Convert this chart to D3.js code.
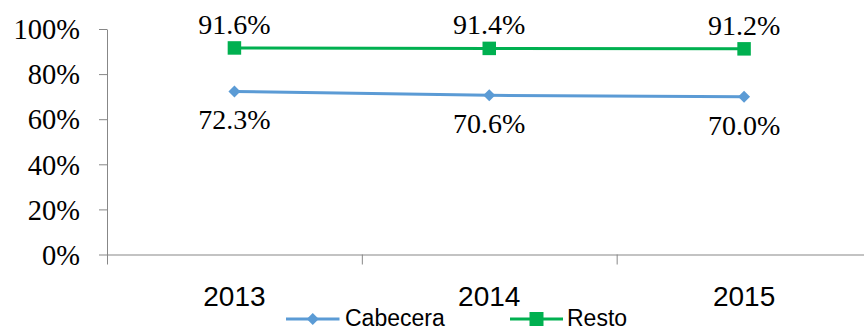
<!DOCTYPE html>
<html>
<head>
<meta charset="utf-8">
<script src="https://cdn.jsdelivr.net/npm/d3@7/dist/d3.min.js"></script>
<style>
  html, body { margin: 0; padding: 0; background: #fff; }
  svg { display: block; }
  .serif-text { font-family: "Liberation Serif", Tinos, "Times New Roman", serif; }
  .sans-text { font-family: "Liberation Sans", Arimo, Arial, sans-serif; }
</style>
</head>
<body>
<svg id="chart" width="864" height="330"></svg>
<script>
// Share of population by area, 2013–2015
const years = ["2013", "2014", "2015"];
const cabecera = [0.723, 0.706, 0.700];
const resto = [0.916, 0.914, 0.912];
const yTicks = [0, 0.2, 0.4, 0.6, 0.8, 1.0];
const seriesNames = ["Cabecera", "Resto"];

const series = [
  { name: seriesNames[0], values: cabecera, color: "#5B9BD5", marker: "diamond", labelDy: 38 },
  { name: seriesNames[1], values: resto, color: "#00B050", marker: "square", labelDy: -14 }
];

const svg = d3.select("#chart");
const axisColor = "#878787";

const plotLeft = 107, plotRight = 871.5, plotTop = 29, plotBottom = 254.5;

const x = d3.scaleBand().domain(years).range([plotLeft, plotRight]).paddingInner(0).paddingOuter(0);
const xEdges = d3.scaleLinear().domain([0, years.length]).range([plotLeft, plotRight]);
const y = d3.scaleLinear().domain([0, 1]).range([plotBottom, plotTop]);

// Y axis
const yAxis = svg.append("g")
  .attr("transform", `translate(${plotLeft},0)`)
  .call(d3.axisLeft(y).tickValues(yTicks).tickSize(8).tickSizeOuter(0).tickPadding(19)
    .tickFormat(d3.format(".0%")));
yAxis.attr("font-family", null).attr("font-size", null);
yAxis.select(".domain").attr("stroke", axisColor);
yAxis.selectAll(".tick line").attr("stroke", axisColor);
yAxis.selectAll(".tick text")
  .attr("class", "serif-text")
  .attr("fill", "#000")
  .attr("font-size", 28.5)
  .attr("dy", "0.34em");

// X axis: boundary ticks
const xAxis = svg.append("g")
  .attr("transform", `translate(0,${plotBottom})`)
  .call(d3.axisBottom(xEdges).tickValues(d3.range(years.length + 1)).tickSize(10).tickSizeOuter(0)
    .tickFormat(""));
xAxis.select(".domain").attr("stroke", axisColor);
xAxis.selectAll(".tick line").attr("stroke", axisColor);

// Category labels
const xLabels = svg.append("g")
  .attr("transform", `translate(0,${plotBottom})`)
  .call(d3.axisBottom(x).tickSize(0).tickPadding(0));
xLabels.attr("font-family", null).attr("font-size", null);
xLabels.select(".domain").remove();
xLabels.selectAll(".tick text")
  .attr("class", "sans-text")
  .attr("fill", "#000")
  .attr("y", 51.5)
  .attr("dy", 0)
  .attr("font-size", 28);

const cx = (d, i) => x(years[i]) + x.bandwidth() / 2;

const markerPath = (type, size) => type === "square"
  ? d3.symbol().type(d3.symbolSquare).size(size * size)()
  : d3.symbol().type(d3.symbolSquare).size(size * size / 2)();

series.forEach(s => {
  const g = svg.append("g");
  g.append("path")
    .datum(s.values)
    .attr("fill", "none")
    .attr("stroke", s.color)
    .attr("stroke-width", 3)
    .attr("d", d3.line().x(cx).y(d => y(d)));

  g.selectAll(".mk")
    .data(s.values)
    .join("path")
    .attr("class", "mk")
    .attr("fill", s.color)
    .attr("d", s.marker === "square" ? markerPath("square", 13.5) : markerPath("diamond", 12))
    .attr("transform", (d, i) => `translate(${cx(d, i)},${y(d)})` + (s.marker === "diamond" ? " rotate(45)" : ""));

  g.selectAll(".lbl")
    .data(s.values)
    .join("text")
    .attr("class", "lbl serif-text")
    .attr("x", cx)
    .attr("y", d => y(d) + s.labelDy)
    .attr("text-anchor", "middle")
    .attr("font-size", 28)
    .attr("fill", "#000")
    .text(d => d3.format(".1%")(d));
});

// Legend
const legendItems = [
  { s: series[0], x0: 286, x1: 339.5, tx: 345 },
  { s: series[1], x0: 510, x1: 563, tx: 567 }
];
const ly = 319;
legendItems.forEach(it => {
  const g = svg.append("g");
  g.append("line")
    .attr("x1", it.x0).attr("x2", it.x1)
    .attr("y1", ly).attr("y2", ly)
    .attr("stroke", it.s.color).attr("stroke-width", 3);
  g.append("path")
    .attr("fill", it.s.color)
    .attr("d", it.s.marker === "square" ? markerPath("square", 14) : markerPath("diamond", 12))
    .attr("transform", `translate(${(it.x0 + it.x1) / 2},${ly})` + (it.s.marker === "diamond" ? " rotate(45)" : ""));
  g.append("text")
    .attr("class", "sans-text")
    .attr("x", it.tx)
    .attr("y", 326)
    .attr("font-size", 23)
    .attr("fill", "#000")
    .text(it.s.name);
});
</script>
</body>
</html>
